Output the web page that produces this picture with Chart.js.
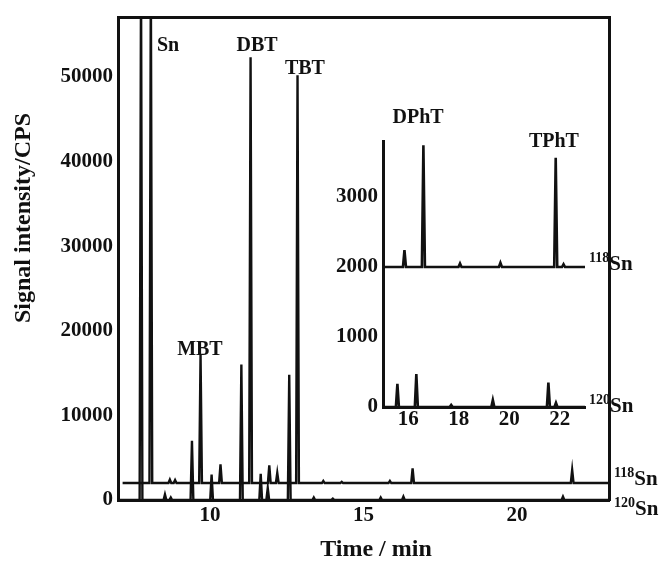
<!DOCTYPE html>
<html>
<head>
<meta charset="utf-8">
<script src="https://cdn.jsdelivr.net/npm/chart.js@4.4.1/dist/chart.umd.min.js"></script>
<style>
  html, body { margin: 0; padding: 0; background: #fff; }
  #wrap { position: relative; width: 659px; height: 561px; }
  #wrap canvas { position: absolute; left: 0; top: 0; }
</style>
</head>
<body>
<div id="wrap">
  <canvas id="main-chart" width="659" height="561"></canvas>
  <canvas id="inset-chart" width="659" height="561"></canvas>
</div>
<script>
// ============= DATA =============
// main chromatogram (time / min, signal / CPS)
const mainXTicks = [10, 15, 20];
const mainYTicks = [0, 10000, 20000, 30000, 40000, 50000];

// 118Sn trace, drawn on a 2000 CPS offset
const sn118Baseline = 2000;
const sn118Times   = [8.07, 8.69, 8.86, 9.69, 10.34, 11.32, 11.93, 12.19, 12.85, 13.69, 14.29, 15.86, 16.6, 21.8];
const sn118Heights = [62000, 2400, 2350, 17200, 4200, 52300, 4100, 3200, 50200, 2250, 2150, 2250, 3750, 3550];

// 120Sn trace
const sn120Baseline = 0;
const sn120Times   = [7.75, 8.53, 8.72, 9.41, 10.05, 11.02, 11.65, 11.88, 12.58, 13.38, 14.0, 15.56, 16.3, 21.5];
const sn120Heights = [62000, 650, 300, 7000, 3000, 16000, 3100, 1400, 14800, 300, 150, 300, 400, 400];

// peak names on the main plot
const mainPeakNames  = ['Sn', 'MBT', 'DBT', 'TBT'];
const mainPeakTimes  = [8.63, 9.67, 11.53, 13.09];
const mainPeakValues = [53700, 17790, 53700, 50930];

// inset (phenyltins)
const insetXTicks = [16, 18, 20, 22];
const insetYTicks = [0, 1000, 2000, 3000];
const inset118Times   = [15.85, 16.6, 18.05, 19.65, 21.84, 22.15];
const inset118Heights = [2240, 3740, 2050, 2060, 3560, 2040];
const inset120Times   = [15.57, 16.32, 17.7, 19.35, 21.55, 21.85];
const inset120Heights = [330, 470, 30, 100, 350, 60];

const insetPeakNames  = ['DPhT', 'TPhT'];
const insetPeakTimes  = [16.39, 21.77];
const insetPeakValues = [4130, 3786];

// ============= HELPERS =============
const FONT = '"Liberation Serif", "Times New Roman", serif';
const INK = '#111';
Chart.defaults.font.family = FONT;
Chart.defaults.font.weight = 'bold';
Chart.defaults.color = INK;

// narrow triangular peaks on a flat baseline
function buildTrace(start, end, base, times, heights, halfWidth) {
    const pts = [{ x: start, y: base }];
    times.forEach((t, i) => {
        pts.push({ x: t - halfWidth, y: base });
        pts.push({ x: t, y: heights[i] });
        pts.push({ x: t + halfWidth, y: base });
    });
    pts.push({ x: end, y: base });
    return pts;
}

function traceDataset(data, width) {
    return {
        data: data,
        borderColor: INK,
        borderWidth: width,
        pointRadius: 0,
        tension: 0,
        fill: false
    };
}

function fixedTicks(values) {
    return (scale) => { scale.ticks = values.map(v => ({ value: v })); };
}

const plainNumber = (v) => String(v);

function drawIsotope(ctx, x, y, mass, symbol) {
    ctx.textAlign = 'left';
    ctx.textBaseline = 'alphabetic';
    ctx.font = 'bold 14px ' + FONT;
    ctx.fillText(mass, x, y - 8);
    const w = ctx.measureText(mass).width;
    ctx.font = 'bold 21px ' + FONT;
    ctx.fillText(symbol, x + w, y);
}

function drawNames(chart, names, times, values) {
    const ctx = chart.ctx;
    const xs = chart.scales.x, ys = chart.scales.y;
    ctx.save();
    ctx.fillStyle = INK;
    ctx.font = 'bold 20px ' + FONT;
    ctx.textAlign = 'center';
    ctx.textBaseline = 'middle';
    names.forEach((n, i) => {
        ctx.fillText(n, xs.getPixelForValue(times[i]), ys.getPixelForValue(values[i]));
    });
    ctx.restore();
}

// ============= MAIN CHART =============
const mainLabels = {
    id: 'mainLabels',
    afterDraw(chart) {
        const ctx = chart.ctx;
        const ys = chart.scales.y;
        const right = chart.chartArea.right;
        drawNames(chart, mainPeakNames, mainPeakTimes, mainPeakValues);
        ctx.save();
        ctx.fillStyle = INK;
        drawIsotope(ctx, right + 5, ys.getPixelForValue(sn118Baseline) + 2, '118', 'Sn');
        drawIsotope(ctx, right + 5, ys.getPixelForValue(sn120Baseline) + 15, '120', 'Sn');

        // axis titles
        ctx.font = 'bold 24px ' + FONT;
        ctx.textAlign = 'center';
        ctx.textBaseline = 'middle';
        ctx.fillText('Time / min', 376, 550);
        ctx.translate(24, 218);
        ctx.rotate(-Math.PI / 2);
        ctx.fillText('Signal intensity/CPS', 0, 0);
        ctx.restore();
    }
};

new Chart(document.getElementById('main-chart'), {
    type: 'line',
    data: {
        datasets: [
            traceDataset(buildTrace(7.15, 23, sn118Baseline, sn118Times, sn118Heights, 0.045), 2.4),
            traceDataset(buildTrace(7, 23, sn120Baseline, sn120Times, sn120Heights, 0.045), 2.4)
        ]
    },
    options: {
        responsive: false,
        animation: false,
        layout: { padding: 0 },
        plugins: { legend: { display: false }, tooltip: { enabled: false } },
        scales: {
            x: {
                type: 'linear', position: 'bottom', min: 7, max: 23,
                afterBuildTicks: fixedTicks(mainXTicks),
                afterFit: (s) => { s.height = 61; },
                grid: { display: false, drawTicks: false },
                border: { display: true, width: 3, color: INK },
                ticks: { font: { size: 21, weight: 'bold' }, padding: 3, maxRotation: 0, callback: plainNumber }
            },
            y: {
                type: 'linear', position: 'left', min: 0, max: 57000,
                afterBuildTicks: fixedTicks(mainYTicks),
                afterFit: (s) => { s.width = 118; },
                grid: { display: false, drawTicks: false },
                border: { display: true, width: 3, color: INK },
                ticks: { font: { size: 21, weight: 'bold' }, padding: 5, callback: plainNumber }
            },
            xTop: {
                type: 'linear', position: 'top', min: 7, max: 23,
                afterFit: (s) => { s.height = 10; },
                grid: { display: false, drawTicks: false },
                border: { display: true, width: 3, color: INK },
                ticks: { display: false }
            },
            yRight: {
                type: 'linear', position: 'right', min: 0, max: 57000,
                afterFit: (s) => { s.width = 50; },
                grid: { display: false, drawTicks: false },
                border: { display: true, width: 3, color: INK },
                ticks: { display: false }
            }
        }
    },
    plugins: [mainLabels]
});

// ============= INSET CHART =============
const insetLabels = {
    id: 'insetLabels',
    afterDraw(chart) {
        const ctx = chart.ctx;
        const ys = chart.scales.y;
        const right = chart.chartArea.right;
        drawNames(chart, insetPeakNames, insetPeakTimes, insetPeakValues);
        ctx.save();
        ctx.fillStyle = INK;
        drawIsotope(ctx, right + 4, ys.getPixelForValue(2000) + 3, '118', 'Sn');
        drawIsotope(ctx, right + 4, ys.getPixelForValue(0) + 5, '120', 'Sn');
        ctx.restore();
    }
};

new Chart(document.getElementById('inset-chart'), {
    type: 'line',
    data: {
        datasets: [
            traceDataset(buildTrace(15, 23, 2000, inset118Times, inset118Heights, 0.06), 2.6),
            traceDataset(buildTrace(15, 23, 0, inset120Times, inset120Heights, 0.06), 2.6)
        ]
    },
    options: {
        responsive: false,
        animation: false,
        layout: { padding: { left: 300, right: 74, top: 141, bottom: 124 } },
        plugins: { legend: { display: false }, tooltip: { enabled: false } },
        scales: {
            x: {
                type: 'linear', position: 'bottom', min: 15, max: 23,
                afterBuildTicks: fixedTicks(insetXTicks),
                afterFit: (s) => { s.height = 30; },
                grid: { display: false, drawTicks: false },
                border: { display: true, width: 3, color: INK },
                ticks: { font: { size: 21, weight: 'bold' }, padding: 0, maxRotation: 0, callback: plainNumber }
            },
            y: {
                type: 'linear', position: 'left', min: 0, max: 3800,
                afterBuildTicks: fixedTicks(insetYTicks),
                afterFit: (s) => { s.width = 83; },
                grid: { display: false, drawTicks: false },
                border: { display: true, width: 3, color: INK },
                ticks: { font: { size: 21, weight: 'bold' }, padding: 5, callback: plainNumber }
            }
        }
    },
    plugins: [insetLabels]
});
</script>
</body>
</html>
